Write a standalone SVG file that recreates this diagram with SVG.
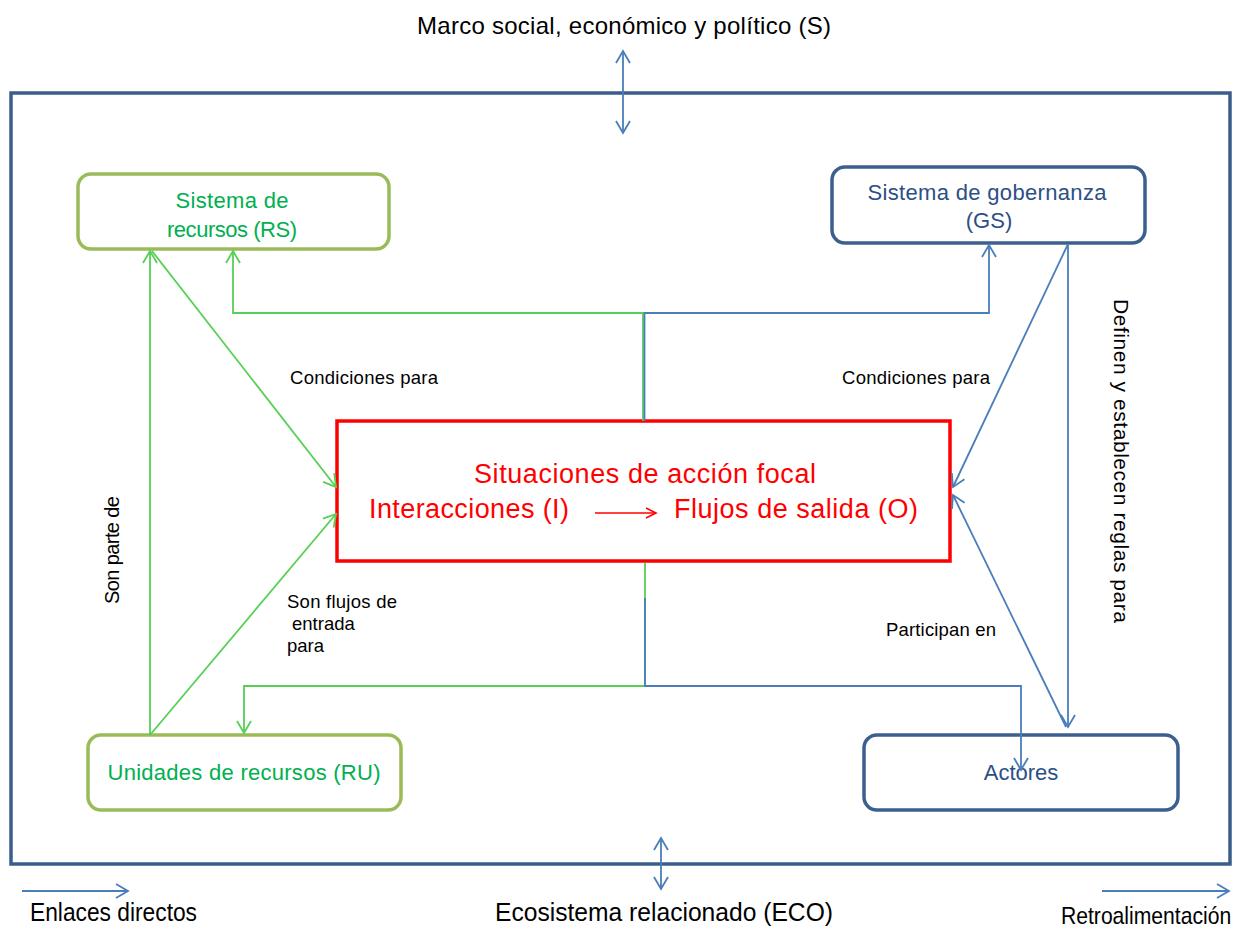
<svg xmlns="http://www.w3.org/2000/svg" width="1249" height="935" viewBox="0 0 1249 935">
  <style>
    text { font-family: "Liberation Sans", Arial, sans-serif; }
    .frame { fill: none; stroke: #3a5d8c; stroke-width: 3.5; }
    .boxg { fill: none; stroke: #9bbb59; stroke-width: 3.5; }
    .boxb { fill: none; stroke: #3c5f8f; stroke-width: 3.5; }
    .focal { fill: none; stroke: #ff0000; stroke-width: 3.5; }
    .lg { fill: none; stroke: #55d055; stroke-width: 1.8; }
    .lb { fill: none; stroke: #4a7ebb; stroke-width: 1.8; }
    .tg { fill: #00b050; font-size: 22px; }
    .tb { fill: #2c4f85; font-size: 22px; }
    .tr { fill: #ff0000; font-size: 27px; }
    .lab { fill: #000000; font-size: 18.5px; }
    .big { fill: #000000; font-size: 24px; }
    .narrow { fill: #000000; font-size: 25px; }
  </style>
  <defs>
    <marker id="ag" viewBox="-14 -9 16 18" refX="0" refY="0" markerWidth="16" markerHeight="18" markerUnits="userSpaceOnUse" orient="auto-start-reverse">
      <path d="M-12,-7 L0,0 L-12,7" fill="none" stroke="#55d055" stroke-width="1.8"/>
    </marker>
    <marker id="ab" viewBox="-14 -9 16 18" refX="0" refY="0" markerWidth="16" markerHeight="18" markerUnits="userSpaceOnUse" orient="auto-start-reverse">
      <path d="M-12,-7 L0,0 L-12,7" fill="none" stroke="#4a7ebb" stroke-width="1.8"/>
    </marker>
    <marker id="ar" viewBox="-12 -7 14 14" refX="0" refY="0" markerWidth="14" markerHeight="14" markerUnits="userSpaceOnUse" orient="auto">
      <path d="M-10,-5 L0,0 L-10,5" fill="none" stroke="#ff0000" stroke-width="1.6"/>
    </marker>
  </defs>

  <rect width="1249" height="935" fill="#ffffff"/>

  <!-- outer system boundary -->
  <rect class="frame" x="11" y="93" width="1219" height="771"/>

  <!-- links to the surrounding context -->
  <g id="context">
    <text class="big" x="624" y="34" text-anchor="middle" textLength="414">Marco social, económico y político (S)</text>
    <line class="lb" x1="623" y1="51" x2="623" y2="133" marker-start="url(#ab)" marker-end="url(#ab)"/>
    <line class="lb" x1="661" y1="838" x2="661" y2="889" marker-start="url(#ab)" marker-end="url(#ab)"/>
    <text class="narrow" x="664" y="921" text-anchor="middle" textLength="338" lengthAdjust="spacingAndGlyphs">Ecosistema relacionado (ECO)</text>
  </g>

  <g id="rs">
    <rect class="boxg" x="78" y="174" width="311" height="75" rx="13"/>
    <text class="tg" x="232" y="208" text-anchor="middle" textLength="113">Sistema de</text>
    <text class="tg" x="232" y="237" text-anchor="middle" textLength="130">recursos (RS)</text>
  </g>

  <g id="gs">
    <rect class="boxb" x="832" y="167" width="313" height="76" rx="13"/>
    <text class="tb" x="987" y="200" text-anchor="middle" textLength="239">Sistema de gobernanza</text>
    <text class="tb" x="989" y="228" text-anchor="middle">(GS)</text>
  </g>

  <g id="focal">
    <rect class="focal" x="337" y="421" width="613" height="140"/>
    <text class="tr" x="645" y="483" text-anchor="middle" textLength="342">Situaciones de acción focal</text>
    <text class="tr" x="369" y="518" textLength="200">Interacciones (I)</text>
    <line x1="595" y1="513" x2="656" y2="513" stroke="#ff0000" stroke-width="1.6" marker-end="url(#ar)"/>
    <text class="tr" x="674" y="518" textLength="244">Flujos de salida (O)</text>
  </g>

  <g id="ru">
    <rect class="boxg" x="88" y="735" width="313" height="75" rx="13"/>
    <text class="tg" x="244" y="780" text-anchor="middle" textLength="273">Unidades de recursos (RU)</text>
  </g>

  <g id="actores">
    <rect class="boxb" x="864" y="735" width="314" height="75" rx="13"/>
    <text class="tb" x="1021" y="780" text-anchor="middle">Actores</text>
  </g>

  <!-- connectors -->
  <g id="connectors">
    <!-- green links -->
    <path class="lg" d="M150,735 L150,251" marker-end="url(#ag)"/>
    <path class="lg" d="M152,251 L336,487" marker-end="url(#ag)"/>
    <path class="lg" d="M150,735 L336,514" marker-end="url(#ag)"/>
    <path class="lg" d="M643,421 L643,313 L233,313 L233,251" marker-end="url(#ag)"/>
    <path class="lg" d="M645,563 L645,686 L244,686 L244,733" marker-end="url(#ag)"/>
    <!-- blue links -->
    <path class="lb" d="M644.5,421 L644.5,313 L989,313 L989,245" marker-end="url(#ab)"/>
    <path class="lb" d="M645,598 L645,686 L1021,686 L1021,770" marker-end="url(#ab)"/>
    <path class="lb" d="M1068,244 L953,487" marker-end="url(#ab)"/>
    <path class="lb" d="M1068,244 L1068,727" marker-end="url(#ab)"/>
    <path class="lb" d="M1066,727 L953,495" marker-end="url(#ab)"/>
  </g>

  <!-- connector labels -->
  <g id="labels">
    <text class="lab" x="290" y="384" textLength="148">Condiciones para</text>
    <text class="lab" x="842" y="384" textLength="148">Condiciones para</text>
    <text class="lab" x="287" y="608" textLength="110">Son flujos de</text>
    <text class="lab" x="292" y="630">entrada</text>
    <text class="lab" x="287" y="652">para</text>
    <text class="lab" x="886" y="636" textLength="110">Participan en</text>
    <text class="lab" style="font-size:20px" transform="translate(119,550) rotate(-90)" text-anchor="middle" textLength="108">Son parte de</text>
    <text class="lab" style="font-size:21px" transform="translate(1114,461) rotate(90)" text-anchor="middle" textLength="324">Definen y establecen reglas para</text>
  </g>

  <!-- legend -->
  <g id="legend">
    <line class="lb" x1="22" y1="891" x2="128" y2="891" marker-end="url(#ab)"/>
    <text class="narrow" x="30" y="921" textLength="167" lengthAdjust="spacingAndGlyphs">Enlaces directos</text>
    <line class="lb" x1="1102" y1="891" x2="1229" y2="891" marker-end="url(#ab)"/>
    <text class="narrow" style="font-size:24px" transform="translate(1061,924) scale(0.88,1)" x="0" y="0">Retroalimentación</text>
  </g>
</svg>
